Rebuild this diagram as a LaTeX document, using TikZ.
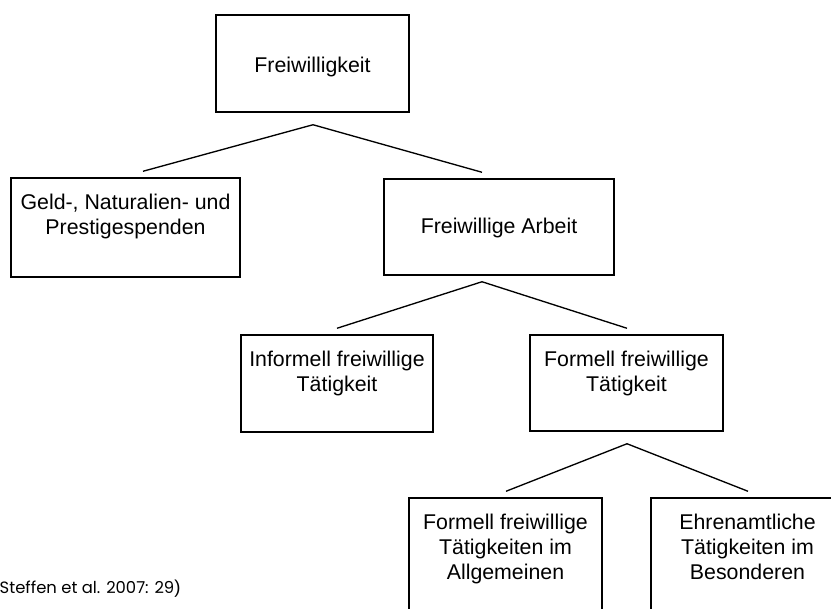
\documentclass[tikz,border=0pt]{standalone}
\usepackage{fontspec}
\setmainfont{Liberation Sans}
\newfontfamily\citefont{Poppins}
\usetikzlibrary{calc}
\begin{document}
\begin{tikzpicture}[x=0.75pt,y=-0.75pt,
  line width=1.1pt,
  box/.style={draw, rectangle, inner sep=0pt, minimum width=#1},
  label text/.style={inner sep=0pt, align=center,
    font=\fontsize{16}{18.8}\selectfont},
  branch/.style={line width=1pt}]
\useasboundingbox (0,0) rectangle (831,608);

% boxes
\node[box=193pt*0.75, minimum height=97*0.75pt] (top)  at (312.5,63.5) {};
\node[box=229pt*0.75, minimum height=99*0.75pt] (geld) at (125.5,227.5) {};
\node[box=230pt*0.75, minimum height=96*0.75pt] (arbeit) at (499,227) {};
\node[box=192pt*0.75, minimum height=97*0.75pt] (inf)  at (337,383.5) {};
\node[box=193pt*0.75, minimum height=96*0.75pt] (form) at (626.5,383) {};
\node[box=193pt*0.75, minimum height=120*0.75pt] (allg) at (505.5,558) {};
\node[box=193pt*0.75, minimum height=120*0.75pt] (ehren) at (747.5,558) {};

% labels
\node[label text, anchor=base] (tTop) at (312.5,72) {Freiwilligkeit};
\node[label text, anchor=base] (tArbeit) at (499,233) {Freiwillige Arbeit};
\node[label text, anchor=north] (tGeld) at ($(geld.north)+(0,16)$)
  {Geld-, Naturalien- und\\Prestigespenden};
\node[label text, anchor=north] (tInf) at ($(inf.north)+(0,16)$)
  {Informell freiwillige\\Tätigkeit};
\node[label text, anchor=north] (tForm) at ($(form.north)+(0,16)$)
  {Formell freiwillige\\Tätigkeit};
\node[label text, anchor=north] (tAllg) at ($(allg.north)+(0,16)$)
  {Formell freiwillige\\Tätigkeiten im\\Allgemeinen};
\node[label text, anchor=north] (tEhren) at ($(ehren.north)+(0,16)$)
  {Ehrenamtliche\\Tätigkeiten im\\Besonderen};

% branching connectors
\coordinate (a1) at ($(top.south)+(0.5,12)$);
\coordinate (l1) at ($(geld.north)+(17.5,-6)$);
\coordinate (r1) at ($(arbeit.north)+(-17,-6)$);
\draw[branch] (l1) -- (a1) -- (r1);

\coordinate (a2) at ($(arbeit.south)+(-17,6)$);
\coordinate (l2) at ($(inf.north)+(0,-6)$);
\coordinate (r2) at ($(form.north)+(0.5,-6)$);
\draw[branch] (l2) -- (a2) -- (r2);

\coordinate (a3) at ($(form.south)+(0.5,12)$);
\coordinate (l3) at ($(allg.north)+(0.5,-6)$);
\coordinate (r3) at ($(ehren.north)+(0.5,-6)$);
\draw[branch] (l3) -- (a3) -- (r3);

% source note
\node[inner sep=0pt, anchor=base west] (src) at (-1,593)
  {\citefont\fontsize{12.3}{14}\selectfont Steffen et al. 2007: 29\fontsize{14}{15}\selectfont\rmfamily)};
\end{tikzpicture}
\end{document}
